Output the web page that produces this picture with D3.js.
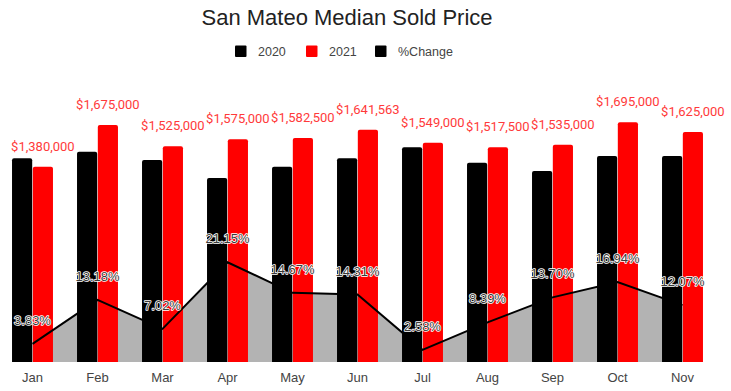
<!DOCTYPE html>
<html>
<head>
<meta charset="utf-8">
<script src="https://cdn.jsdelivr.net/npm/d3@7"></script>
<style>
  body { margin: 0; background: #fff; }
  svg { display: block; }
</style>
</head>
<body>
<svg id="chart" width="731" height="391"></svg>
<script>
const width = 731;
const height = 391;

// data
const months = ["Jan", "Feb", "Mar", "Apr", "May", "Jun", "Jul", "Aug", "Sep", "Oct", "Nov"];
const sold2020 = [1440000, 1486000, 1428000, 1300000, 1380000, 1440000, 1517000, 1408000, 1350000, 1455000, 1455000];
const sold2021 = [1380000, 1675000, 1525000, 1575000, 1582500, 1641563, 1549000, 1517500, 1535000, 1695000, 1625000];
const pctChange = [3.83, 13.18, 7.02, 21.15, 14.67, 14.31, 2.58, 8.39, 13.70, 16.94, 12.07];

const seriesNames = ["2020", "2021", "%Change"];
const seriesColors = ["#000000", "#ff0000", "#000000"];

const svg = d3.select("#chart");

const plotTop = 79, plotBottom = 362;

const x = d3.scaleBand()
    .domain(months)
    .range([0, 715])
    .paddingInner(0.37)
    .paddingOuter(0.185);

const x1 = d3.scaleBand()
    .domain(["2020", "2021"])
    .range([0, x.bandwidth()])
    .paddingInner(0.03);

const y = d3.scaleLinear()
    .domain([0, 2000000])
    .range([plotBottom, plotTop]);

const yPct = d3.scaleLinear()
    .domain([0, 60])
    .range([plotBottom, plotTop]);

const center = m => x(m) + x.bandwidth() / 2;

const rows = months.map((m, i) => ({
    month: m, v2020: sold2020[i], v2021: sold2021[i], pct: pctChange[i]
}));

// title
svg.append("text")
    .attr("x", 347)
    .attr("y", 25)
    .attr("text-anchor", "middle")
    .style("font-family", "Liberation Sans, Arial, sans-serif")
    .style("font-size", "22px")
    .style("fill", "#222")
    .text("San Mateo Median Sold Price");

// legend
const legendX = [235, 306, 375];
const legend = svg.append("g");
seriesNames.forEach((name, i) => {
    legend.append("rect")
        .attr("x", legendX[i])
        .attr("y", 45.5)
        .attr("width", 11.5)
        .attr("height", 11.5)
        .attr("rx", 1)
        .attr("fill", seriesColors[i]);
    legend.append("text")
        .attr("x", legendX[i] + 23)
        .attr("y", 55.5)
        .style("font-family", "Liberation Sans, Arial, sans-serif")
        .style("font-size", "12.5px")
        .style("fill", "#444")
        .text(name);
});

// % change area (behind bars)
const area = d3.area()
    .x(d => center(d.month))
    .y0(plotBottom)
    .y1(d => yPct(d.pct));

svg.append("path")
    .datum(rows)
    .attr("d", area)
    .attr("fill", "#b3b3b3");

// top-rounded bar path
function barPath(x0, w, yTop, r) {
    const h = plotBottom - yTop;
    r = Math.min(r, h);
    return `M${x0},${plotBottom}V${yTop + r}Q${x0},${yTop} ${x0 + r},${yTop}` +
        `H${x0 + w - r}Q${x0 + w},${yTop} ${x0 + w},${yTop + r}V${plotBottom}Z`;
}

// 2021 bars
svg.append("g")
    .selectAll("path")
    .data(rows)
    .enter()
    .append("path")
    .attr("d", d => barPath(x(d.month) + x1("2021"), x1.bandwidth(), y(d.v2021), 2))
    .attr("fill", "#ff0000");

// % change line
const line = d3.line()
    .x(d => center(d.month))
    .y(d => yPct(d.pct));

svg.append("path")
    .datum(rows)
    .attr("d", line)
    .attr("fill", "none")
    .attr("stroke", "#000")
    .attr("stroke-width", 2);

// 2020 bars
svg.append("g")
    .selectAll("path")
    .data(rows)
    .enter()
    .append("path")
    .attr("d", d => barPath(x(d.month) + x1("2020"), x1.bandwidth(), y(d.v2020), 2))
    .attr("fill", "#000000");

// 2021 value labels
const fmt = d3.format("$,");
svg.append("g")
    .selectAll("text")
    .data(rows)
    .enter()
    .append("text")
    .attr("x", d => x(d.month) + x1("2021") + x1.bandwidth() / 2)
    .attr("y", d => y(d.v2021) - 16)
    .attr("text-anchor", "middle")
    .style("font-family", "Roboto, sans-serif")
    .style("font-size", "13px")
    .style("fill", "#ff3a3a")
    .style("stroke", "#fff")
    .style("stroke-width", 2)
    .style("paint-order", "stroke")
    .text(d => fmt(d.v2021));

// % labels
svg.append("g")
    .selectAll("text")
    .data(rows)
    .enter()
    .append("text")
    .attr("x", d => center(d.month))
    .attr("y", d => yPct(d.pct) - 19)
    .attr("text-anchor", "middle")
    .style("font-family", "Liberation Sans, Arial, sans-serif")
    .style("font-size", "13px")
    .style("fill", "#3a3a3a")
    .style("stroke", "#fff")
    .style("stroke-width", 1.6)
    .style("stroke-linejoin", "round")
    .style("paint-order", "stroke")
    .text(d => d.pct.toFixed(2) + "%");

// x axis labels
svg.append("g")
    .selectAll("text")
    .data(months)
    .enter()
    .append("text")
    .attr("x", d => center(d))
    .attr("y", 382)
    .attr("text-anchor", "middle")
    .style("font-family", "Liberation Sans, Arial, sans-serif")
    .style("font-size", "13px")
    .style("fill", "#444")
    .text(d => d);
</script>
</body>
</html>
